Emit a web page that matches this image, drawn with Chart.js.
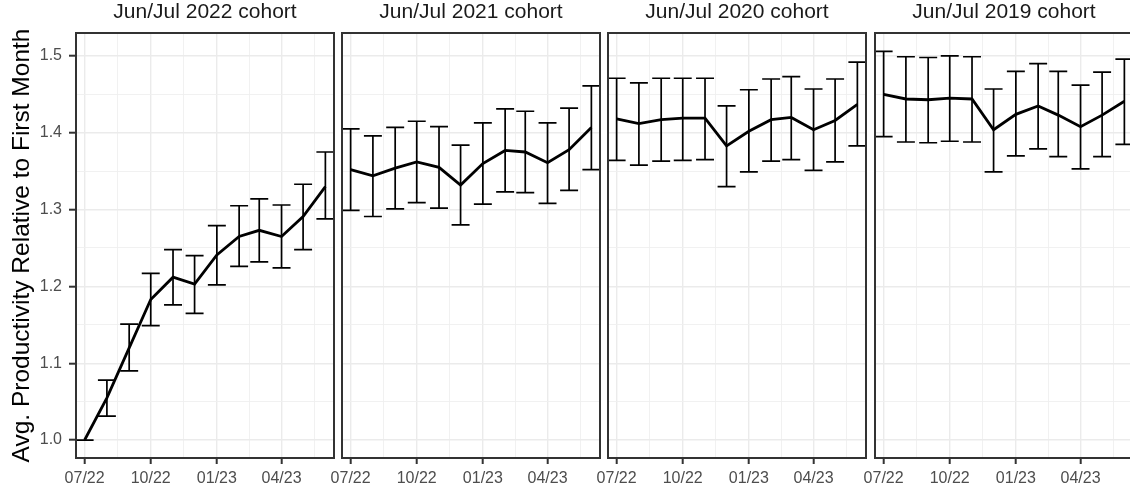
<!DOCTYPE html>
<html>
<head>
<meta charset="utf-8">
<script src="https://cdn.jsdelivr.net/npm/chart.js@4.4.1/dist/chart.umd.min.js"></script>
<style>
  html, body { margin: 0; padding: 0; background: #fff; overflow: hidden; }
  #wrap { position: relative; width: 1130px; height: 493px; overflow: hidden; }
  #wrap canvas { position: absolute; top: 0; }
</style>
</head>
<body>
<div id="wrap"></div>
<script>
// ---- datos ----
const months = ['2022-07-01', '2022-08-01', '2022-09-01', '2022-10-01', '2022-11-01', '2022-12-01',
                '2023-01-01', '2023-02-01', '2023-03-01', '2023-04-01', '2023-05-01', '2023-06-01'];
const cohorts = ['Jun/Jul 2022 cohort', 'Jun/Jul 2021 cohort', 'Jun/Jul 2020 cohort', 'Jun/Jul 2019 cohort'];

const mean2022 = [1.000, 1.055, 1.120, 1.183, 1.212, 1.203, 1.241, 1.265, 1.273, 1.265, 1.291, 1.330];
const low2022  = [1.000, 1.031, 1.090, 1.149, 1.176, 1.165, 1.202, 1.226, 1.232, 1.224, 1.248, 1.288];
const high2022 = [1.000, 1.078, 1.151, 1.217, 1.248, 1.240, 1.279, 1.305, 1.314, 1.306, 1.333, 1.375];

const mean2021 = [1.352, 1.344, 1.354, 1.362, 1.355, 1.332, 1.360, 1.377, 1.375, 1.361, 1.378, 1.407];
const low2021  = [1.299, 1.291, 1.301, 1.309, 1.302, 1.280, 1.307, 1.323, 1.322, 1.308, 1.325, 1.352];
const high2021 = [1.405, 1.396, 1.407, 1.415, 1.408, 1.384, 1.413, 1.431, 1.428, 1.413, 1.432, 1.461];

const mean2020 = [1.418, 1.412, 1.417, 1.419, 1.419, 1.383, 1.402, 1.417, 1.420, 1.404, 1.416, 1.437];
const low2020  = [1.364, 1.358, 1.363, 1.364, 1.365, 1.330, 1.349, 1.363, 1.365, 1.351, 1.362, 1.383];
const high2020 = [1.471, 1.465, 1.471, 1.471, 1.471, 1.435, 1.456, 1.470, 1.473, 1.457, 1.470, 1.492];

const mean2019 = [1.450, 1.444, 1.443, 1.445, 1.444, 1.404, 1.424, 1.435, 1.423, 1.408, 1.423, 1.441];
const low2019  = [1.395, 1.388, 1.387, 1.389, 1.388, 1.349, 1.370, 1.379, 1.369, 1.353, 1.369, 1.385];
const high2019 = [1.506, 1.499, 1.498, 1.500, 1.499, 1.457, 1.480, 1.490, 1.480, 1.462, 1.479, 1.496];

const xTickDates  = ['2022-07-01', '2022-10-01', '2023-01-01', '2023-04-01', '2023-07-01'];
const xTickLabels = ['07/22', '10/22', '01/23', '04/23', '07/23'];
const yTickValues = [1.0, 1.1, 1.2, 1.3, 1.4, 1.5];
const yTickLabels = ['1.0', '1.1', '1.2', '1.3', '1.4', '1.5'];
const yTitle = 'Avg. Productivity Relative to First Month';

const series = [
    { mean: mean2022, low: low2022, high: high2022 },
    { mean: mean2021, low: low2021, high: high2021 },
    { mean: mean2020, low: low2020, high: high2020 },
    { mean: mean2019, low: low2019, high: high2019 }
];

// ---- helpers ----
const FONT = '"Liberation Sans", Arial, Helvetica, sans-serif';
const DAY0 = Date.parse('2022-07-01');
const toDay = s => (Date.parse(s) - DAY0) / 86400000;
const xs = months.map(toDay);

const X_MIN = -12, X_MAX = 347;
const Y_MIN = 0.9766, Y_MAX = 1.5299;

const xMajor = xTickDates.map(toDay);
const xMinor = xMajor.slice(1).map((d, i) => (d + xMajor[i]) / 2);
const xTicks = xMajor.concat(xMinor).filter(v => v >= X_MIN && v <= X_MAX).sort((a, b) => a - b);
const yMinor = yTickValues.slice(1).map((v, i) => (v + yTickValues[i]) / 2);
const yTicks = yTickValues.concat(yMinor).sort((a, b) => a - b);

const isXMajor = v => xMajor.some(m => Math.abs(m - v) < 1e-6);
const isYMajor = v => yTickValues.some(m => Math.abs(m - v) < 1e-6);

// geometría de los paneles
const PANEL_W = 258, PANEL_LEFTS = [76, 342, 608, 875];
const PLOT_TOP = 33, PLOT_BOTTOM = 458, H = 493;

// barras de error y borde del panel
const errorBars = {
    id: 'errorBars',
    beforeDatasetsDraw(chart, args, opts) {
        const { ctx, chartArea: a, scales: { x, y } } = chart;
        ctx.save();
        ctx.beginPath();
        ctx.rect(a.left, a.top, a.right - a.left, a.bottom - a.top);
        ctx.clip();
        ctx.strokeStyle = '#000';
        ctx.lineWidth = 1.7;
        opts.xs.forEach((d, i) => {
            const px = x.getPixelForValue(d);
            const l = x.getPixelForValue(d - opts.cap), r = x.getPixelForValue(d + opts.cap);
            const yl = y.getPixelForValue(opts.low[i]), yh = y.getPixelForValue(opts.high[i]);
            ctx.beginPath();
            ctx.moveTo(px, yh); ctx.lineTo(px, yl);
            ctx.moveTo(l, yh); ctx.lineTo(r, yh);
            ctx.moveTo(l, yl); ctx.lineTo(r, yl);
            ctx.stroke();
        });
        ctx.restore();
    }
};

const panelBorder = {
    id: 'panelBorder',
    afterDatasetsDraw(chart) {
        const { ctx, chartArea: a } = chart;
        ctx.save();
        ctx.strokeStyle = '#333333';
        ctx.lineWidth = 2;
        ctx.strokeRect(a.left, a.top, a.right - a.left, a.bottom - a.top);
        ctx.restore();
    }
};

function makePanel(i) {
    const first = i === 0;
    const padL = first ? 0 : 20, padR = 6;
    const left = first ? 0 : PANEL_LEFTS[i] - padL;
    const yWidth = first ? PANEL_LEFTS[0] : 0;
    const w = padL + yWidth + PANEL_W + padR;

    const canvas = document.createElement('canvas');
    canvas.width = w; canvas.height = H;
    canvas.style.width = w + 'px'; canvas.style.height = H + 'px';
    canvas.style.left = left + 'px';
    document.getElementById('wrap').appendChild(canvas);

    const s = series[i];
    new Chart(canvas.getContext('2d'), {
        type: 'line',
        data: {
            datasets: [{
                data: xs.map((d, k) => ({ x: d, y: s.mean[k] })),
                borderColor: '#000',
                borderWidth: 2.8,
                pointRadius: 0,
                tension: 0,
                fill: false
            }]
        },
        options: {
            responsive: false,
            animation: false,
            events: [],
            layout: { padding: { left: padL, right: padR, top: 0, bottom: 0 } },
            plugins: {
                legend: { display: false },
                tooltip: { enabled: false },
                title: {
                    display: true, text: cohorts[i], fullSize: false,
                    color: '#1a1a1a', font: { family: FONT, size: 21, weight: 'normal', lineHeight: 1.2 },
                    padding: { top: 0, bottom: PLOT_TOP - 25.2 }
                },
                errorBars: { xs: xs, low: s.low, high: s.high, cap: 12.5 }
            },
            scales: {
                x: {
                    type: 'linear', min: X_MIN, max: X_MAX,
                    afterBuildTicks: sc => { sc.ticks = xTicks.map(v => ({ value: v })); },
                    afterFit: sc => { sc.height = H - PLOT_BOTTOM; },
                    border: { display: false },
                    grid: {
                        color: c => c.tick && isXMajor(c.tick.value) ? '#ebebeb' : '#efefef',
                        lineWidth: c => c.tick && isXMajor(c.tick.value) ? 1.4 : 0.9,
                        tickColor: c => c.tick && isXMajor(c.tick.value) ? '#333333' : 'rgba(0,0,0,0)',
                        tickWidth: 2, tickLength: 6
                    },
                    ticks: {
                        autoSkip: false, maxRotation: 0, padding: 5,
                        color: '#4d4d4d', font: { family: FONT, size: 16 },
                        callback: v => { const k = xMajor.findIndex(m => Math.abs(m - v) < 1e-6); return k >= 0 ? xTickLabels[k] : ''; }
                    }
                },
                y: {
                    type: 'linear', min: Y_MIN, max: Y_MAX,
                    afterBuildTicks: sc => { sc.ticks = yTicks.map(v => ({ value: v })); },
                    afterFit: sc => { sc.width = yWidth; },
                    border: { display: false },
                    grid: {
                        color: c => c.tick && isYMajor(c.tick.value) ? '#ebebeb' : '#efefef',
                        lineWidth: c => c.tick && isYMajor(c.tick.value) ? 1.4 : 0.9,
                        tickColor: c => c.tick && isYMajor(c.tick.value) ? '#333333' : 'rgba(0,0,0,0)',
                        tickWidth: 2, tickLength: 7, drawTicks: first
                    },
                    ticks: {
                        display: first, autoSkip: false, padding: 7,
                        color: '#4d4d4d', font: { family: FONT, size: 16 },
                        callback: v => { const k = yTickValues.findIndex(m => Math.abs(m - v) < 1e-6); return k >= 0 ? yTickLabels[k] : ''; }
                    },
                    title: {
                        display: first, text: yTitle, color: '#000',
                        font: { family: FONT, size: 24.5, lineHeight: 1.2 },
                        padding: { top: 8, bottom: 0 }
                    }
                }
            }
        },
        plugins: [errorBars, panelBorder]
    });
}

cohorts.forEach((c, i) => makePanel(i));
</script>
</body>
</html>
